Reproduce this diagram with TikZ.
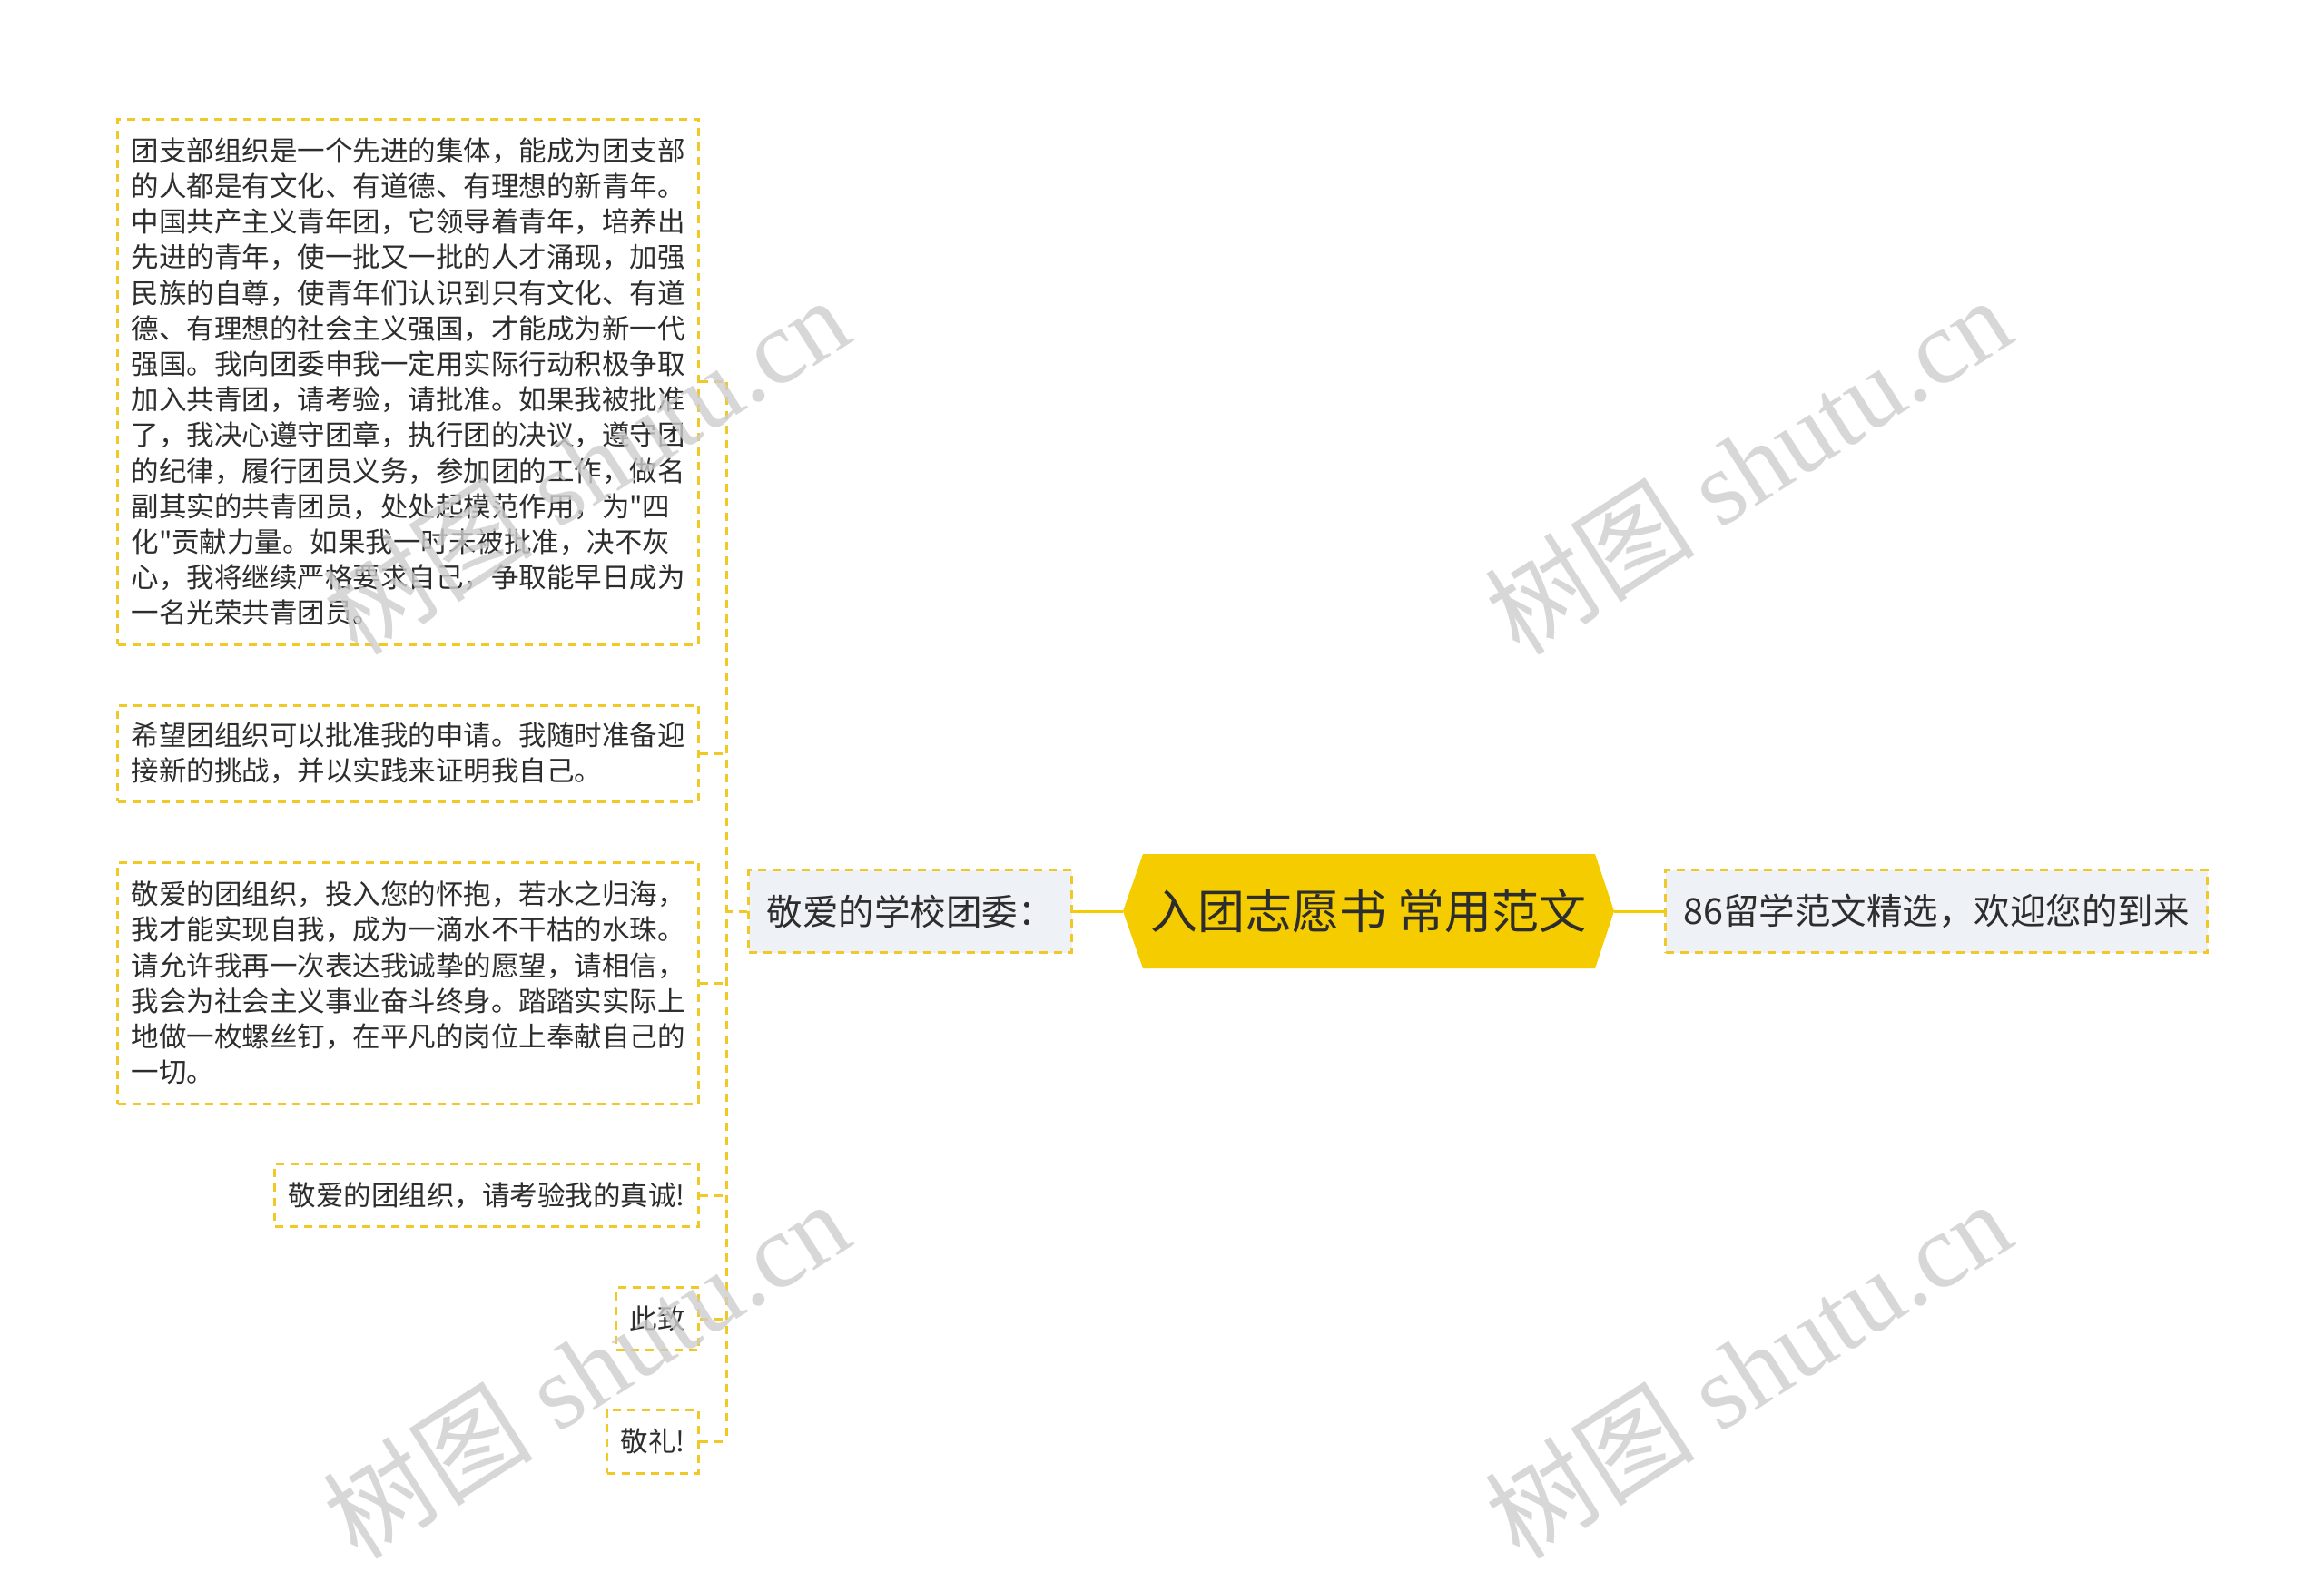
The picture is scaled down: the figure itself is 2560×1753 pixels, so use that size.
\documentclass[tikz,border=0pt]{standalone}
\usepackage{fontspec}
\setmainfont{Noto Sans CJK SC}[Ligatures=TeXOff]
\newfontfamily\wmfont{Liberation Serif}

\definecolor{mapyellow}{RGB}{245,204,0}
\definecolor{dashyellow}{RGB}{240,200,40}
\definecolor{leafgray}{RGB}{238,241,245}
\definecolor{inktext}{RGB}{45,45,45}
\definecolor{wmgray}{RGB}{205,205,205}

\begin{document}
\begin{tikzpicture}[x=1pt, y=-1pt,
    leafbox/.style={draw=dashyellow, line width=3pt, dash pattern=on 9pt off 7pt,
        inner xsep=15pt, inner ysep=0pt, text=inktext, align=left,
        font=\fontsize{30.5}{39.2}\selectfont},
    subbox/.style={draw=dashyellow, line width=3pt, dash pattern=on 9pt off 7pt,
        fill=leafgray, inner xsep=20pt, inner ysep=0pt, minimum height=91pt,
        text=inktext, font=\fontsize{39.5}{46}\selectfont},
    branch/.style={draw=dashyellow, line width=3pt, dash pattern=on 9pt off 7pt},
    stem/.style={draw=mapyellow, line width=3pt},
    wmark/.style={text=wmgray, opacity=0.8, rotate=32.6,
        font=\fontsize{116}{126}\selectfont}]

    % Fix the page size
    \useasboundingbox (0,0) rectangle (2560,1753);

    % Draw the central topic
    \fill[mapyellow] (1237,1004) -- (1259,941) -- (1757,941) -- (1778,1004)
        -- (1757,1067) -- (1259,1067) -- cycle;
    \node[minimum width=541pt, minimum height=126pt, text=inktext,
        font=\fontsize{52}{60}\selectfont] (title) at (1507.5,1004) {入团志愿书 常用范文};

    % Draw the two main branches
    \node[subbox, anchor=east] (school) at (1182,1004) {敬爱的学校团委：};
    \node[subbox, anchor=west] (site) at (1833,1004) {86留学范文精选，欢迎您的到来};

    % Draw the leaves
    \node[leafbox, anchor=east, minimum width=640pt, minimum height=579pt] (leaf1) at (771,420.5) {%
        团支部组织是一个先进的集体，能成为团支部\\
        的人都是有文化、有道德、有理想的新青年。\\
        中国共产主义青年团，它领导着青年，培养出\\
        先进的青年，使一批又一批的人才涌现，加强\\
        民族的自尊，使青年们认识到只有文化、有道\\
        德、有理想的社会主义强国，才能成为新一代\\
        强国。我向团委申我一定用实际行动积极争取\\
        加入共青团，请考验，请批准。如果我被批准\\
        了，我决心遵守团章，执行团的决议，遵守团\\
        的纪律，履行团员义务，参加团的工作，做名\\
        副其实的共青团员，处处起模范作用，为"四\\
        化"贡献力量。如果我一时未被批准，决不灰\\
        心，我将继续严格要求自己，争取能早日成为\\
        一名光荣共青团员。};
    \node[leafbox, anchor=east, minimum width=640pt, minimum height=106pt] (leaf2) at (771,830) {%
        希望团组织可以批准我的申请。我随时准备迎\\
        接新的挑战，并以实践来证明我自己。};
    \node[leafbox, anchor=east, minimum width=640pt, minimum height=266pt] (leaf3) at (771,1083) {%
        敬爱的团组织，投入您的怀抱，若水之归海，\\
        我才能实现自我，成为一滴水不干枯的水珠。\\
        请允许我再一次表达我诚挚的愿望，请相信，\\
        我会为社会主义事业奋斗终身。踏踏实实际上\\
        地做一枚螺丝钉，在平凡的岗位上奉献自己的\\
        一切。};
    \node[leafbox, anchor=east, minimum height=69pt] (leaf4) at (771,1317) {敬爱的团组织，请考验我的真诚!};
    \node[leafbox, anchor=east, minimum height=69pt] (leaf5) at (771,1453) {此致};
    \node[leafbox, anchor=east, minimum height=70pt] (leaf6) at (771,1588) {敬礼!};

    % Draw the connectors
    \coordinate (trunk) at (800,1004);
    \draw[stem] (school.east) -- (title.west);
    \draw[stem] (title.east) -- (site.west);
    \draw[branch] (school.west) -- (trunk);
    \draw[branch] (leaf1.east -| trunk) -- (leaf6.east -| trunk);
    \foreach \leaf in {leaf1,leaf2,leaf3,leaf4,leaf5,leaf6}
        \draw[branch] (\leaf.east) -- (\leaf.east -| trunk);

    % Add the watermarks
    \node[wmark] (wm1) at (645,512) {树图{\wmfont\ shutu.cn}};
    \node[wmark] (wm2) at (1925,512) {树图{\wmfont\ shutu.cn}};
    \node[wmark] (wm3) at (645,1508) {树图{\wmfont\ shutu.cn}};
    \node[wmark] (wm4) at (1925,1508) {树图{\wmfont\ shutu.cn}};

\end{tikzpicture}
\end{document}
